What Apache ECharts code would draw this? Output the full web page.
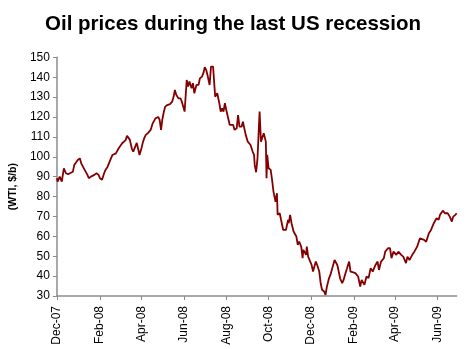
<!DOCTYPE html>
<html>
<head>
<meta charset="utf-8">
<script src="https://cdn.jsdelivr.net/npm/echarts@6/dist/echarts.min.js"></script>
<style>
  html, body { margin: 0; padding: 0; background: #fff; }
  #chart { width: 466px; height: 349px; }
</style>
</head>
<body>
<div id="chart"></div>
<script>
// WTI crude, $/barrel, Dec 2007 – Jun 2009
const dates = [
  '2007-12-01','2007-12-02','2007-12-05','2007-12-08','2007-12-11','2007-12-14','2007-12-17','2007-12-19','2007-12-24','2007-12-26',
  '2007-12-31','2008-01-03','2008-01-05','2008-01-07','2008-01-10','2008-01-12','2008-01-14','2008-01-16','2008-01-19','2008-01-21',
  '2008-01-24','2008-01-27','2008-01-28','2008-01-30','2008-02-01','2008-02-04','2008-02-07','2008-02-09','2008-02-12','2008-02-14',
  '2008-02-16','2008-02-19','2008-02-21','2008-02-24','2008-02-26','2008-02-28','2008-03-01','2008-03-04','2008-03-06','2008-03-09',
  '2008-03-11','2008-03-13','2008-03-15','2008-03-18','2008-03-20','2008-03-22','2008-03-25','2008-03-27','2008-03-29','2008-04-01',
  '2008-04-03','2008-04-05','2008-04-07','2008-04-10','2008-04-12','2008-04-14','2008-04-17','2008-04-19','2008-04-21','2008-04-23',
  '2008-04-25','2008-04-27','2008-04-29','2008-05-01','2008-05-03','2008-05-05','2008-05-08','2008-05-10','2008-05-12','2008-05-15',
  '2008-05-17','2008-05-19','2008-05-21','2008-05-24','2008-05-27','2008-05-29','2008-05-31','2008-06-02','2008-06-05','2008-06-07',
  '2008-06-09','2008-06-12','2008-06-14','2008-06-16','2008-06-19','2008-06-22','2008-06-24','2008-06-27','2008-06-29','2008-07-01',
  '2008-07-03','2008-07-05','2008-07-08','2008-07-10','2008-07-13','2008-07-16','2008-07-18','2008-07-19','2008-07-22','2008-07-24',
  '2008-07-26','2008-07-28','2008-07-30','2008-08-01','2008-08-03','2008-08-06','2008-08-08','2008-08-11','2008-08-13','2008-08-16',
  '2008-08-18','2008-08-20','2008-08-23','2008-08-25','2008-08-27','2008-08-29','2008-09-01','2008-09-03','2008-09-05','2008-09-08',
  '2008-09-10','2008-09-11','2008-09-13','2008-09-15','2008-09-18','2008-09-20','2008-09-22','2008-09-24','2008-09-27','2008-09-28',
  '2008-09-29','2008-10-01','2008-10-04','2008-10-06','2008-10-08','2008-10-09','2008-10-11','2008-10-13','2008-10-14','2008-10-17',
  '2008-10-19','2008-10-22','2008-10-24','2008-10-26','2008-10-29','2008-10-30','2008-11-01','2008-11-03','2008-11-06','2008-11-08',
  '2008-11-10','2008-11-12','2008-11-14','2008-11-17','2008-11-19','2008-11-20','2008-11-22','2008-11-24','2008-11-25','2008-11-27',
  '2008-11-30','2008-12-02','2008-12-04','2008-12-06','2008-12-08','2008-12-10','2008-12-13','2008-12-15','2008-12-17','2008-12-20',
  '2008-12-22','2008-12-24','2008-12-27','2008-12-29','2008-12-31','2009-01-02','2009-01-04','2009-01-06','2009-01-08','2009-01-10',
  '2009-01-12','2009-01-15','2009-01-17','2009-01-19','2009-01-22','2009-01-25','2009-01-27','2009-01-30','2009-02-03','2009-02-05',
  '2009-02-07','2009-02-10','2009-02-12','2009-02-16','2009-02-19','2009-02-22','2009-02-25','2009-02-28','2009-03-04','2009-03-07',
  '2009-03-09','2009-03-12','2009-03-16','2009-03-18','2009-03-22','2009-03-25','2009-03-27','2009-03-30','2009-04-03','2009-04-06',
  '2009-04-10','2009-04-13','2009-04-17','2009-04-19','2009-04-22','2009-04-26','2009-04-29','2009-05-03','2009-05-07','2009-05-09',
  '2009-05-13','2009-05-16','2009-05-20','2009-05-23','2009-05-27','2009-05-31','2009-06-03','2009-06-05','2009-06-09','2009-06-12',
  '2009-06-16','2009-06-19','2009-06-22','2009-06-24','2009-06-27','2009-06-29'
];

const prices = [
  89.2, 87.5, 90.0, 87.5, 94.2, 91.7, 91.2, 91.7, 92.5, 95.9,
  98.4, 99.2, 96.7, 97.5, 93.4, 92.5, 90.9, 89.2, 90.0, 89.2,
  90.9, 91.7, 92.5, 90.9, 89.2, 88.4, 91.7, 93.4, 95.0, 95.9,
  98.4, 100.9, 100.0, 101.7, 100.9, 104.3, 104.0, 106.8, 107.6, 108.4,
  110.5, 109.5, 108.6, 104.0, 102.6, 102.8, 107.0, 104.0, 100.9, 104.5,
  107.5, 109.5, 111.0, 111.8, 111.5, 113.5, 116.8, 117.8, 119.3, 118.5,
  120.0, 118.5, 113.5, 119.0, 122.5, 125.2, 126.0, 125.0, 126.5, 127.7,
  130.0, 133.6, 131.1, 129.4, 129.4, 127.7, 127.0, 122.7, 138.6, 135.3,
  137.8, 134.4, 137.0, 131.9, 136.1, 136.1, 139.4, 140.3, 142.0, 145.0,
  143.7, 141.0, 136.1, 145.3, 145.3, 130.2, 131.0, 131.9, 126.9, 122.7,
  124.4, 122.7, 126.9, 123.5, 124.4, 116.0, 115.1, 116.0, 113.5, 114.3,
  121.0, 115.1, 115.1, 117.6, 114.3, 111.0, 107.6, 106.8, 105.9, 102.6,
  101.0, 95.9, 92.2, 99.2, 122.7, 107.6, 108.4, 111.8, 107.6, 89.2,
  100.9, 94.2, 93.4, 88.4, 82.5, 83.4, 77.4, 81.7, 70.8, 71.6,
  68.2, 63.2, 62.4, 63.2, 68.2, 66.6, 70.8, 66.6, 62.4, 61.6,
  59.9, 55.7, 57.4, 54.8, 49.0, 53.2, 54.0, 50.7, 54.8, 49.8,
  47.3, 45.6, 42.3, 43.1, 47.3, 45.6, 42.3, 36.4, 33.1, 32.3,
  30.6, 34.7, 38.9, 40.6, 39.8, 45.6, 48.1, 49.0, 45.6, 42.3,
  38.9, 36.4, 38.1, 40.6, 43.9, 47.3, 42.3, 42.0, 41.5, 41.0,
  39.8, 34.7, 38.1, 35.6, 39.8, 39.0, 44.0, 42.3, 45.6, 47.3,
  43.1, 47.3, 49.0, 52.3, 54.0, 54.0, 49.0, 52.3, 50.7, 52.3,
  50.7, 49.8, 46.5, 49.8, 48.1, 50.7, 52.3, 54.8, 59.0, 58.2,
  58.2, 57.3, 61.6, 63.2, 66.6, 69.1, 68.3, 70.8, 72.9, 71.6,
  71.6, 69.9, 67.4, 69.9, 70.8, 71.6
];

// Bimonthly tick marks on the date axis: [year, month index]
const tickMonths = [
  [2007, 11], [2008, 1], [2008, 3], [2008, 5], [2008, 7], [2008, 9],
  [2008, 11], [2009, 1], [2009, 3], [2009, 5]
];
const monthNames = ['Jan','Feb','Mar','Apr','May','Jun','Jul','Aug','Sep','Oct','Nov','Dec'];

const yTicks = { min: 30, max: 150, step: 10 };

const axisGrey = '#8c8c8c';
const font = 'Arial, "Liberation Sans", Helvetica, sans-serif';

const toTime = (s) => {
  const [y, m, d] = s.split('-').map(Number);
  return Date.UTC(y, m - 1, d);
};
const tickValues = tickMonths.map(([y, m]) => Date.UTC(y, m, 1));
const seriesData = dates.map((d, i) => [toTime(d), prices[i]]);

const chart = echarts.init(document.getElementById('chart'), null, { renderer: 'canvas' });

chart.setOption({
  animation: false,
  backgroundColor: '#ffffff',
  title: {
    text: 'Oil prices during the last US recession',
    left: 'center',
    top: 9,
    textStyle: { fontFamily: font, fontSize: 20.5, fontWeight: 'bold', color: '#000' }
  },
  grid: { left: 50, right: 9.3, top: 57.3, bottom: 53, containLabel: false },
  xAxis: {
    type: 'value',
    min: Date.UTC(2007, 11, 1),
    max: Date.UTC(2009, 5, 29),
    axisLine: { show: true, lineStyle: { color: axisGrey, width: 1.5 } },
    axisTick: {
      show: true,
      customValues: tickValues,
      length: 4,
      inside: false,
      lineStyle: { color: axisGrey, width: 1 }
    },
    axisLabel: {
      customValues: tickValues,
      rotate: 90,
      margin: 10,
      fontFamily: font,
      fontSize: 12,
      color: '#000',
      formatter: (v) => {
        const d = new Date(v);
        return monthNames[d.getUTCMonth()] + '-' + String(d.getUTCFullYear() % 100).padStart(2, '0');
      }
    },
    splitLine: { show: false }
  },
  yAxis: {
    type: 'value',
    min: yTicks.min,
    max: yTicks.max,
    interval: yTicks.step,
    name: '(WTI, $/b)',
    nameLocation: 'middle',
    nameGap: 36,
    nameRotate: 90,
    nameTextStyle: {
      fontFamily: font,
      fontSize: 10.5,
      fontWeight: 'bold',
      color: '#000',
      padding: [0, 20, 0, 0]
    },
    axisLine: { show: true, lineStyle: { color: axisGrey, width: 1.5 } },
    axisTick: { show: true, length: 4, lineStyle: { color: axisGrey, width: 1 } },
    axisLabel: { margin: 7, fontFamily: font, fontSize: 12, color: '#000' },
    splitLine: { show: false }
  },
  series: [{
    type: 'line',
    data: seriesData,
    showSymbol: false,
    symbol: 'none',
    lineStyle: { color: '#840000', width: 1.8 },
    emphasis: { disabled: true }
  }]
});
</script>
</body>
</html>
